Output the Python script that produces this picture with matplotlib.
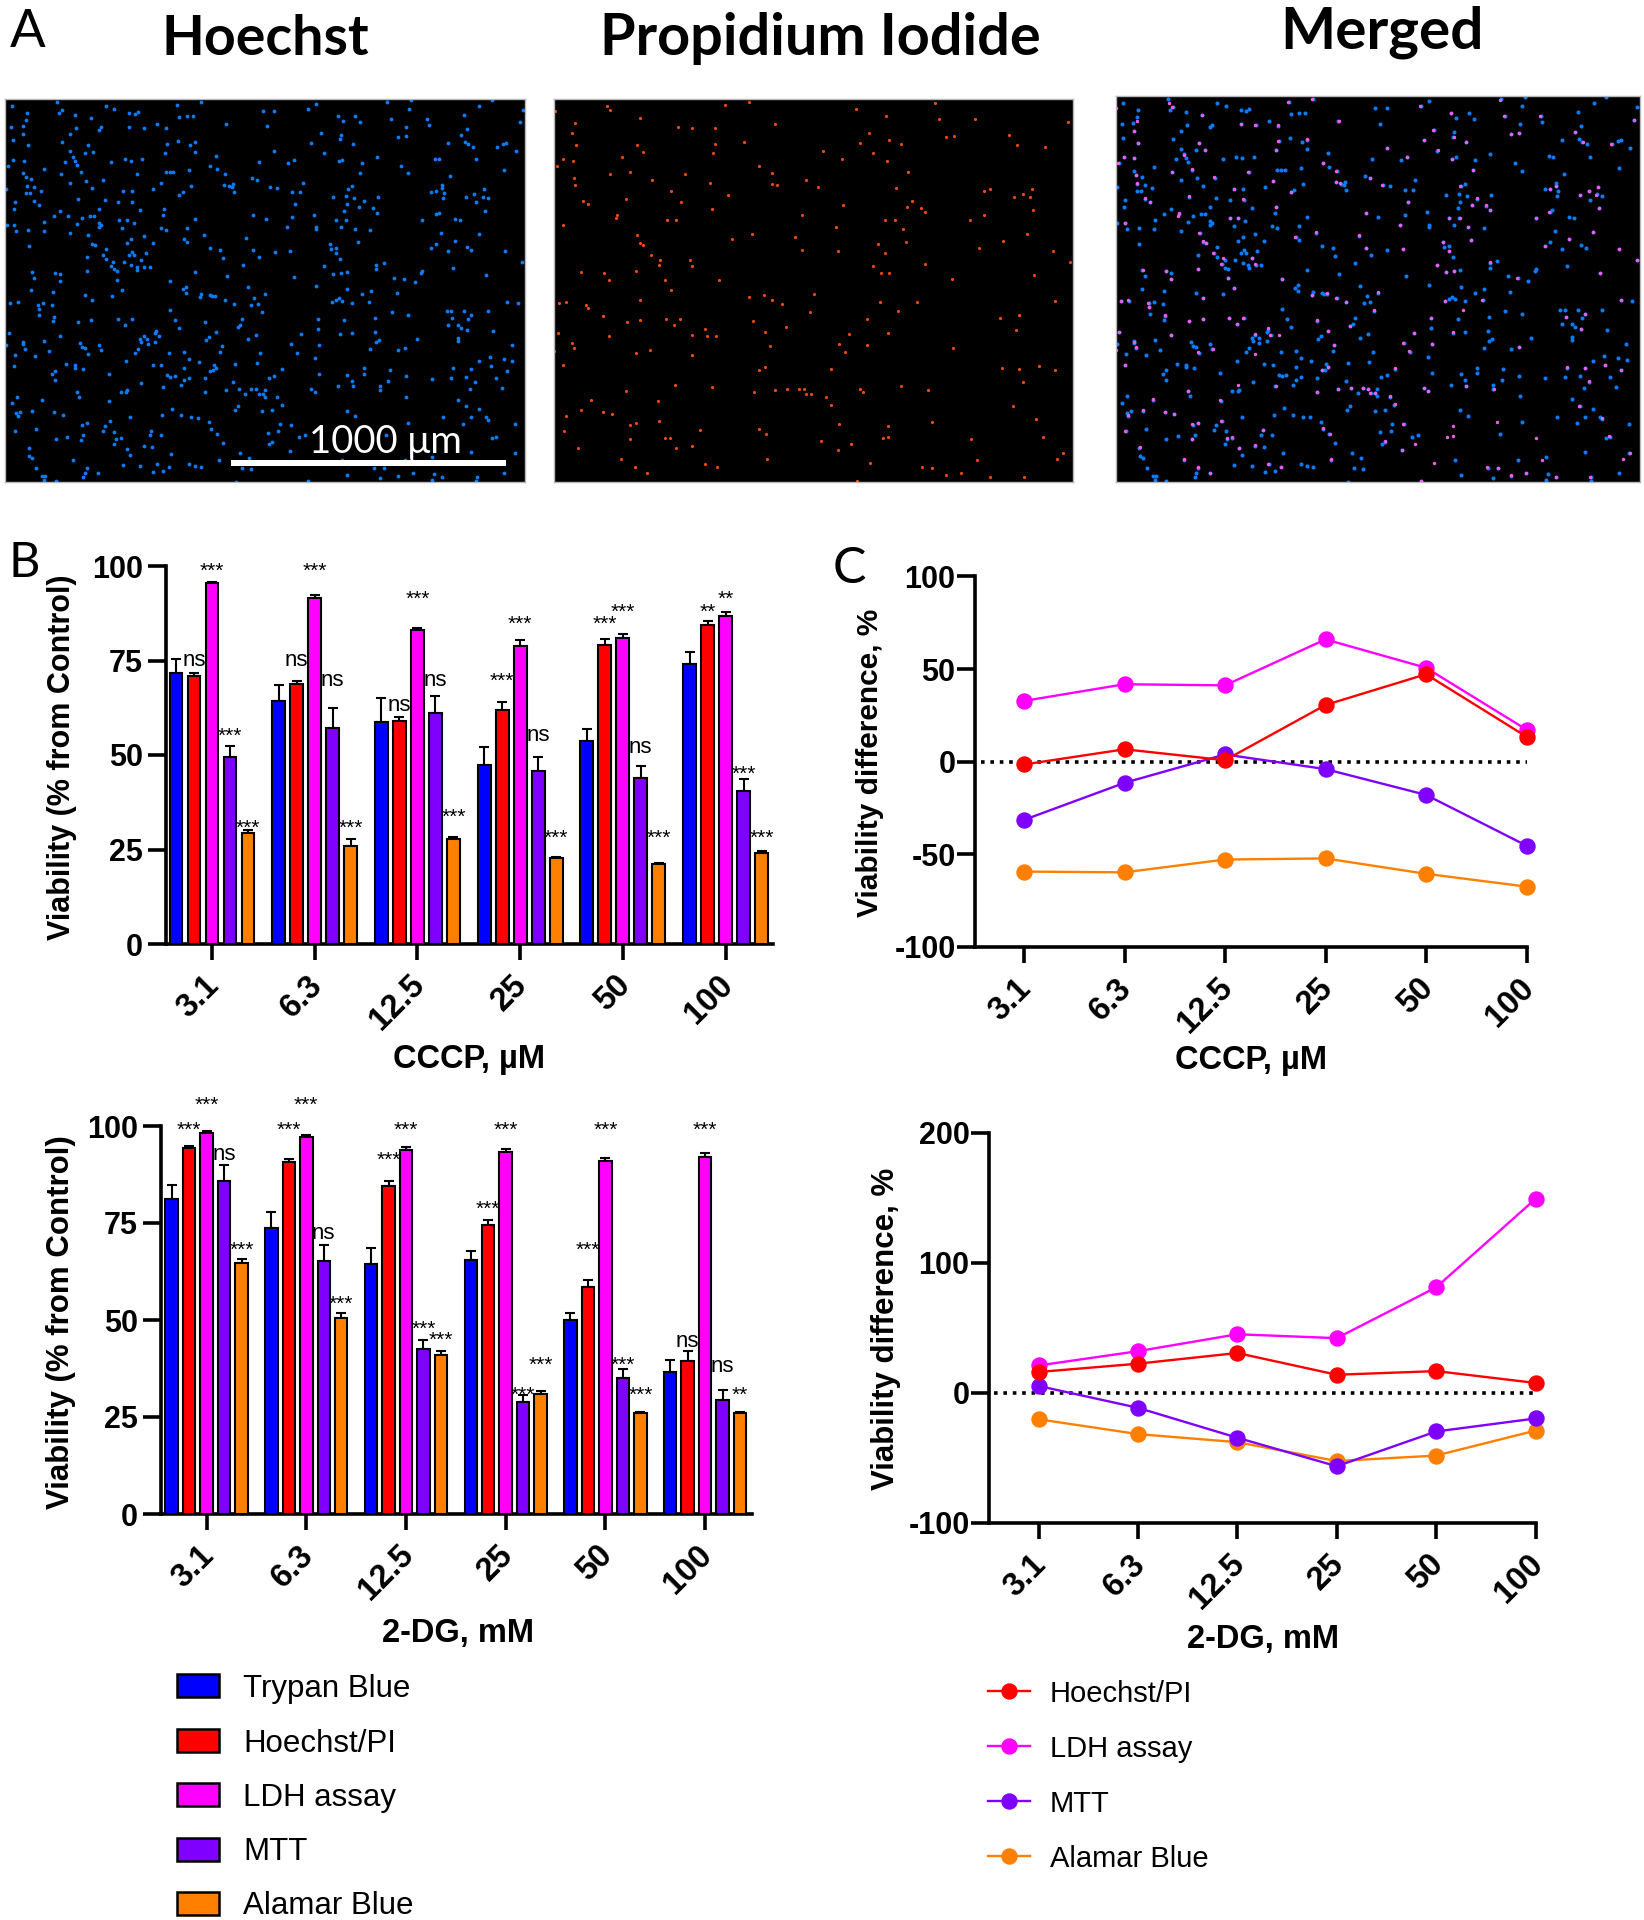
import numpy as np
import matplotlib
matplotlib.use("Agg")
import matplotlib.pyplot as plt
from matplotlib.patches import Rectangle

plt.rcParams["axes.unicode_minus"] = False

W, H = 1644, 1920
BOLD = "Liberation Sans"
LATO = "Lato"

groups = ["3.1", "6.3", "12.5", "25", "50", "100"]
bar_names = ["Trypan Blue", "Hoechst/PI", "LDH assay", "MTT", "Alamar Blue"]
line_names = ["Hoechst/PI", "LDH assay", "MTT", "Alamar Blue"]
bar_colors = ["#0000FF", "#FF0000", "#FF00FF", "#7F00FF", "#FF8000"]
line_colors = bar_colors[1:]

# viability bars, CCCP
cccp_trypan = [71.6, 64.4, 58.6, 47.4, 53.6, 74.2]
cccp_hoechst = [70.9, 68.8, 59.0, 62.0, 79.1, 84.4]
cccp_ldh = [95.5, 91.5, 83.1, 78.8, 80.9, 86.9]
cccp_mtt = [49.4, 57.2, 61.2, 45.7, 44.0, 40.5]
cccp_alamar = [29.3, 26.0, 27.8, 22.8, 21.2, 24.1]
cccp_trypan_err = [3.7, 4.0, 6.6, 4.6, 3.2, 3.1]
cccp_hoechst_err = [0.7, 0.9, 1.1, 1.9, 1.7, 1.0]
cccp_ldh_err = [0.3, 0.7, 0.5, 1.5, 1.1, 1.0]
cccp_mtt_err = [3.1, 5.3, 4.3, 3.8, 3.0, 3.2]
cccp_alamar_err = [0.9, 1.9, 0.5, 0.2, 0.3, 0.4]

# viability bars, 2-DG
dg_trypan = [81.3, 73.6, 64.5, 65.4, 50.1, 36.7]
dg_hoechst = [94.4, 90.6, 84.5, 74.5, 58.6, 39.5]
dg_ldh = [98.1, 97.2, 93.7, 93.3, 91.0, 92.0]
dg_mtt = [85.9, 65.3, 42.4, 28.8, 35.1, 29.5]
dg_alamar = [64.7, 50.5, 41.0, 30.9, 26.0, 26.1]
dg_trypan_err = [3.4, 4.3, 4.1, 2.3, 1.6, 3.0]
dg_hoechst_err = [0.4, 0.8, 1.2, 1.3, 1.8, 2.4]
dg_ldh_err = [0.7, 0.6, 1.0, 0.8, 0.8, 1.0]
dg_mtt_err = [4.1, 4.1, 2.5, 1.8, 2.3, 2.5]
dg_alamar_err = [1.1, 1.2, 1.0, 0.7, 0.4, 0.3]

# significance labels and the height they sit at
cccp_sig_hoechst = ["ns", "ns", "ns", "***", "***", "**"]
cccp_sig_ldh = ["***", "***", "***", "***", "***", "**"]
cccp_sig_mtt = ["***", "ns", "ns", "ns", "ns", "***"]
cccp_sig_alamar = ["***", "***", "***", "***", "***", "***"]
cccp_sig_hoechst_y = [75.1, 75.1, 63.1, 70.9, 86.0, 89.0]
cccp_sig_ldh_y = [100.0, 100.0, 92.4, 86.0, 89.0, 92.4]
cccp_sig_mtt_y = [56.3, 69.6, 69.6, 55.1, 52.0, 46.1]
cccp_sig_alamar_y = [31.8, 31.8, 34.8, 29.3, 29.3, 29.3]

dg_sig_hoechst = ["***", "***", "***", "***", "***", "ns"]
dg_sig_ldh = ["***", "***", "***", "***", "***", "***"]
dg_sig_mtt = ["ns", "ns", "***", "***", "***", "ns"]
dg_sig_alamar = ["***", "***", "***", "***", "***", "**"]
dg_sig_hoechst_y = [100.2, 100.2, 92.5, 79.9, 69.1, 44.5]
dg_sig_ldh_y = [106.6, 106.6, 100.2, 100.2, 100.2, 100.2]
dg_sig_mtt_y = [92.7, 72.4, 48.9, 31.9, 39.6, 38.1]
dg_sig_alamar_y = [69.1, 55.2, 45.9, 39.6, 31.9, 31.9]

# viability difference lines
diff_cccp_hoechst = [-1.5, 6.7, 0.8, 30.6, 47.2, 13.5]
diff_cccp_ldh = [32.8, 41.8, 41.2, 66.0, 50.7, 17.3]
diff_cccp_mtt = [-31.4, -11.4, 3.9, -4.0, -17.9, -45.3]
diff_cccp_alamar = [-59.3, -59.7, -52.8, -52.2, -60.5, -67.4]

diff_dg_hoechst = [16.0, 22.4, 30.6, 13.9, 16.7, 7.6]
diff_dg_ldh = [21.0, 32.0, 45.0, 42.0, 81.0, 149.0]
diff_dg_mtt = [5.3, -11.5, -34.5, -56.4, -29.7, -19.7]
diff_dg_alamar = [-20.3, -31.7, -37.9, -52.4, -48.2, -29.0]

# cell positions
img_x0, img_x1, img_y0, img_y1 = 13, 1372, 296, 1447
hoechst_dots = [
(148,305),(524,306),(826,311),(1012,307),(1075,300),(1285,299),(32,318),(155,340),(162,330),(276,318),(299,328),(338,338),(352,341),(360,336),(462,315),(687,332),(716,334),(805,327),(1068,327),(1253,317),(1366,330),(71,340),(68,360),(59,378),(29,380),(197,345),(237,353),(468,351),(488,347),(504,348),(883,348),(897,362),(929,347),(942,366),(1022,356),(1116,356),(1120,375),(1212,346),(1359,367),(199,384),(182,401),(264,382),(258,390),(338,381),(377,384),(411,371),(434,385),(591,372),(698,379),(838,398),(1061,381),(1221,387),(61,401),(33,421),(72,436),(161,426),(230,436),(436,431),(466,423),(497,435),(510,427),(892,405),(889,418),(922,433),(1039,411),(1060,408),(1171,429),(1206,405),(1215,425),(1224,433),(1235,440),(1300,440),(1315,431),(1323,428),(813,428),(184,454),(190,470),(221,458),(244,457),(430,458),(510,456),(717,452),(848,460),(1348,453),(35,480),(62,482),(171,486),(197,482),(202,494),(291,486),(326,478),(341,483),(372,478),(565,468),(678,486),(753,488),(769,479),(886,484),(895,480),(946,488),(984,471),(1136,476),(1147,478),(1244,478),(21,498),(114,507),(211,516),(550,497),(567,507),(494,510),(1048,497),(1318,511),(1067,519),(940,518),(61,520),(67,532),(81,537),(160,523),(358,523),(433,517),(443,516),(452,517),(587,521),(659,534),(672,540),(270,540),(225,542),(184,548),(421,550),(585,554),(598,558),(605,562),(609,552),(791,548),(919,559),(1177,529),(1155,556),(1155,565),(70,558),(90,561),(107,572),(240,565),(401,567),(498,559),(706,561),(725,564),(909,566),(16,568),(68,580),(79,580),(321,573),(344,574),(477,577),(469,584),(612,577),(763,576),(785,577),(1127,575),(1140,574),(1161,580),(1265,567),(1240,581),(204,597),(274,600),(869,592),(903,589),(925,594),(987,591),(1159,595),(1217,592),(1261,590),(1275,595),(38,607),(90,603),(103,614),(309,606),(346,606),(772,613),(906,612),(951,603),(1243,606),(36,628),(258,627),(367,630),(428,628),(938,622),(975,624),(900,632),(985,638),(1268,632),(158,634),(140,647),(178,648),(214,654),(235,647),(245,648),(426,645),(662,646),(820,644),(1146,638),(1139,643),(1189,657),(1201,660),(763,652),(509,657),(694,658),(905,659),(878,661),(1103,660),(115,666),(17,674),(37,675),(201,672),(259,668),(263,675),(258,680),(311,660),(332,661),(350,668),(892,680),(827,680),(825,688),(750,681),(320,685),(420,684),(433,690),(489,683),(73,691),(114,692),(43,694),(183,698),(927,688),(968,690),(1153,699),(1251,703),(231,704),(376,707),(343,717),(533,704),(644,713),(480,717),(489,725),(935,727),(1189,724),(75,737),(241,732),(248,735),(332,730),(399,730),(863,732),(866,746),(879,745),(1140,733),(1127,744),(1171,752),(1221,741),(1232,750),(1320,753),(549,743),(576,751),(662,751),(718,755),(759,754),(276,747),(346,757),(338,764),(351,765),(381,760),(268,765),(226,771),(276,778),(583,775),(676,772),(879,759),(889,776),(368,780),(324,785),(296,785),(289,797),(343,795),(357,800),(377,800),(391,800),(634,794),(847,799),(1003,790),(983,794),(1365,787),(297,808),(305,812),(228,813),(358,810),(510,816),(869,821),(892,819),(907,815),(983,808),(1104,813),(1100,819),(1185,804),(1270,825),(83,816),(143,819),(158,823),(89,833),(157,842),(593,827),(767,832),(1030,834),(1056,838),(1084,847),(305,840),(445,842),
(825,859),(487,860),(479,868),(648,862),(908,866),(81,871),(138,877),(320,869),(487,879),(969,873),(945,883),(1037,880),(222,885),(292,888),(525,882),(548,885),(555,887),(561,887),(665,893),(693,883),(523,891),(587,900),(241,899),(886,895),(879,901),(868,907),(893,902),(965,905),(919,909),(1325,905),(1353,908),(26,909),(47,907),(99,914),(112,910),(137,916),(611,911),(657,915),(673,912),(101,927),(445,931),(684,937),(1024,938),(1066,945),(1167,934),(1179,934),(1212,935),(1275,935),(1230,946),(103,947),(142,951),(138,963),(239,961),(308,958),(345,957),(457,962),(633,958),(832,959),(900,960),(981,954),(1181,956),(1222,958),(204,966),(327,976),(536,966),(467,984),(628,977),(621,983),(1170,977),(1197,977),(1205,985),(1221,991),(832,989),(1289,994),(23,1001),(158,1008),(408,995),(406,1000),(565,997),(668,1005),(786,1002),(889,1002),(920,1001),(979,998),(375,1010),(384,1017),(415,1010),(545,1013),(539,1021),(648,1019),(1091,1018),(1197,1015),(1198,1024),(116,1025),(209,1030),(366,1017),(369,1026),(406,1026),(386,1034),(990,1021),(982,1027),(60,1028),(60,1034),(16,1037),(258,1037),(215,1042),(221,1045),(360,1047),(579,1040),(760,1033),(834,1037),(1338,1035),(968,1048),(1040,1050),(1059,1045),(66,1047),(263,1050),(128,1055),(441,1059),(352,1060),(576,1056),(776,1060),(229,1062),(480,1058),(680,1061),(39,1067),(91,1068),(493,1077),(823,1075),(1280,1073),(1316,1079),(1339,1083),(1252,1085),(329,1085),(520,1087),(671,1089),(173,1094),(195,1097),(399,1095),(422,1097),(560,1095),(615,1092),(1283,1099),(37,1099),(216,1107),(197,1105),(482,1104),(564,1104),(737,1109),(951,1106),(1018,1111),(1185,1106),(1230,1108),(1325,1113),(548,1113),(556,1112),(950,1123),(143,1113),(135,1124),(285,1122),(833,1122),(908,1125),(1060,1130),(717,1128),(702,1135),(436,1127),(456,1128),(445,1132),(494,1135),(1128,1138),(1178,1135),(1217,1132),(1295,1135),(144,1142),(482,1142),(535,1136),(610,1147),(919,1144),(1015,1143),(1242,1148),(369,1149),(473,1157),(884,1159),(922,1160),(993,1159),(1311,1164),(427,1162),(993,1170),(1229,1167),(591,1170),(625,1168),(655,1168),(668,1169),(692,1170),(814,1168),(823,1177),(333,1172),(316,1176),(330,1176),(201,1177),(536,1178),(641,1183),(676,1183),(686,1183),(692,1192),(44,1192),(206,1192),(724,1193),(1061,1192),(1197,1201),(109,1202),(286,1205),(31,1211),(621,1220),(736,1217),(613,1232),(1217,1220),(449,1227),(1252,1229),(84,1234),(43,1240),(52,1236),(142,1238),(685,1235),(711,1232),(906,1233),(46,1250),(165,1245),(424,1247),(474,1246),(498,1252),(517,1254),(340,1253),(927,1249),(1158,1252),(1230,1253),(1270,1253),(1276,1260),(288,1264),(545,1268),(1067,1269),(731,1273),(761,1275),(1210,1272),(1345,1274),(213,1276),(228,1271),(274,1278),(93,1288),(268,1293),(299,1296),(395,1293),(552,1289),(39,1295),(727,1295),(700,1299),(218,1307),(175,1311),(391,1307),(420,1307),(568,1304),(782,1312),(797,1306),(1010,1305),(1295,1312),(1285,1316),(145,1318),(211,1320),(316,1316),(303,1318),(297,1334),(583,1330),(712,1327),(703,1333),(376,1340),(397,1342),(333,1347),(75,1345),(757,1353),(1230,1357),(447,1362),(340,1367),(76,1369),(84,1376),(627,1361),(1346,1361),(190,1380),(410,1394),(572,1380),(650,1376),(893,1380),(1058,1380),(1130,1372),(494,1393),(510,1400),(525,1401),(321,1395),(367,1400),(442,1402),(94,1405),(226,1404),(632,1406),(656,1408),(978,1405),(1004,1405),(401,1416),(427,1413),(222,1419),(218,1431),(257,1421),(110,1429),(118,1430),(908,1426),(1040,1428),(1078,1421),(1135,1423),(1318,1419),(993,1434),(1155,1432),(1246,1432),(115,1440),(145,1444),(617,1446),(806,1444),(1130,1442),(1245,1444),
]

# cell positions
pi_x0, pi_x1, pi_y0, pi_y1 = 40, 1494, 296, 1447
pi_dots = [
(586,306),(1107,308),(42,332),(188,318),(198,330),(520,315),(886,328),(970,348),(280,353),(1118,356),(1219,356),(1480,367),(100,370),(659,372),(388,381),(428,383),(490,384),(91,400),(922,399),(1316,404),(1138,411),(1160,408),(978,419),(103,436),(272,436),(492,431),(572,426),(896,428),(1012,433),(1336,434),(1416,440),(288,457),(793,452),(486,458),(934,459),(230,472),(64,478),(92,482),(848,478),(973,484),(48,498),(615,497),(197,523),(252,515),(408,523),(652,520),(1031,517),(96,533),(314,539),(745,540),(476,549),(100,556),(664,556),(652,553),(780,561),(997,565),(1262,566),(1380,567),(369,573),(1246,573),(528,584),(1354,581),(1328,591),(1374,591),(243,596),(122,602),(395,605),(1043,602),(136,613),(851,614),(1029,622),(1069,623),(484,627),(1080,637),(1383,631),(216,645),(214,653),(735,646),(1244,644),(357,659),(381,660),(966,661),(995,659),(1206,659),(65,675),(829,681),(1018,687),(272,704),(595,703),(1364,702),(715,712),(539,716),(1298,723),(1027,726),(282,730),(290,735),(949,731),(735,750),(837,753),(1232,744),(1438,752),(966,759),(311,764),(338,779),(420,780),(334,796),(428,798),(1079,792),(1486,787),(933,799),(115,815),(179,818),(269,813),(956,820),(979,819),(193,841),(352,839),(502,841),(1155,838),(1385,825),(368,869),(767,882),(586,890),(627,885),(282,899),(652,899),(679,911),(54,909),(75,906),(954,907),(1057,905),(1444,904),(131,914),(134,925),(757,936),(1003,935),(177,949),(1343,945),(282,960),(355,957),(394,957),(916,958),(1289,955),(244,966),(598,965),(376,975),(690,982),(464,987),(1333,990),(51,1000),(631,996),(867,1002),(977,1001),(194,1008),(426,1007),(470,1009),(493,1008),(90,1029),(838,1032),(918,1036),(645,1039),(96,1045),(1159,1044),(40,1055),(269,1061),(310,1050),(426,1066),(855,1058),(66,1097),(630,1103),(614,1112),(815,1108),(1294,1105),(1342,1107),(1398,1098),(1444,1112),(1355,1147),(380,1157),(484,1162),(1012,1160),(658,1170),(694,1167),(727,1168),(741,1169),(896,1168),(1089,1171),(241,1175),(600,1178),(747,1182),(759,1182),(907,1177),(143,1200),(801,1192),(331,1203),(815,1216),(1327,1220),(115,1232),(178,1237),(202,1244),(74,1248),(1391,1257),(334,1264),(1099,1267),(269,1271),(253,1275),(839,1273),(976,1280),(448,1291),(615,1287),(67,1294),(634,1303),(350,1316),(364,1314),(252,1318),(961,1314),(976,1311),(1207,1317),(1410,1311),(789,1325),(871,1334),(428,1338),(107,1344),(383,1346),(836,1352),(1467,1360),(229,1378),(637,1379),(1224,1381),(1448,1378),(924,1391),(463,1393),(268,1402),(498,1401),(1072,1403),(1100,1404),(301,1420),(1137,1425),(1262,1431),(1358,1431),(1179,1420),(889,1445),
]


def px_axes(x0, ytop, x1, ybot, zorder=1):
    return fig.add_axes([x0 / W, 1 - ybot / H, (x1 - x0) / W, (ybot - ytop) / H], zorder=zorder)


def dots_frac(dots, x0, x1, y0, y1):
    d = np.array(dots, dtype=float)
    return (d[:, 0] - x0) / (x1 - x0), (d[:, 1] - y0) / (y1 - y0)


def micrograph(box):
    ax = px_axes(*box)
    ax.set_facecolor("black")
    ax.set_xlim(0, 1)
    ax.set_ylim(1, 0)
    ax.set_xticks([])
    ax.set_yticks([])
    for s in ax.spines.values():
        s.set_color("#b8b8b8")
        s.set_linewidth(1.0)
    return ax


def style_axes(ax, ymin, ymax, yticks, ylabel, xlabel, ylab_pos, xlab_pos, ylab_size, ypad):
    ax.set_ylim(ymin, ymax)
    ax.set_yticks(yticks)
    ax.set_xticks(range(len(groups)))
    ax.set_xticklabels(groups, rotation=45, ha="right", va="top", rotation_mode="anchor")
    for s in ["top", "right"]:
        ax.spines[s].set_visible(False)
    for s in ["left", "bottom"]:
        ax.spines[s].set_linewidth(2.6)
    ax.tick_params(axis="x", width=2.6, length=11.5, labelsize=23.5, pad=4)
    ax.tick_params(axis="y", width=2.6, length=13, labelsize=22, pad=ypad)
    for t in ax.get_xticklabels() + ax.get_yticklabels():
        t.set_fontfamily(BOLD)
        t.set_fontweight("bold")
    for t in ax.get_xticklabels():
        t.set_transform(t.get_transform() + matplotlib.transforms.ScaledTranslation(-6 / 72, -3 / 72, fig.dpi_scale_trans))
    ax.set_ylabel(ylabel, fontfamily=BOLD, fontweight="bold", fontsize=ylab_size, va="center", ha="center")
    ax.set_xlabel(xlabel, fontfamily=BOLD, fontweight="bold", fontsize=23.5, va="baseline", ha="center")
    ax.yaxis.set_label_coords(ylab_pos[0], ylab_pos[1], transform=page.transData)
    ax.xaxis.set_label_coords(xlab_pos[0], xlab_pos[1], transform=page.transData)


def viability_panel(box, xlim, series, errs, sig_labels, sig_heights, xlabel, ylab_pos, xlab_pos, ylab_size):
    ax = px_axes(*box)
    ax.patch.set_alpha(0)
    step = 18.0 / 102.7
    x = np.arange(len(groups))
    for i in range(5):
        pos = x + (i - 2) * step
        ax.bar(pos, series[i], width=0.125, color=bar_colors[i], edgecolor="black", linewidth=1.5, zorder=3)
        ax.errorbar(pos, series[i], yerr=[np.zeros(6), errs[i]], fmt="none", ecolor="black",
                    elinewidth=1.5, capsize=3.5, capthick=1.5, zorder=2)
    for i in range(4):
        pos = x + (i - 1) * step
        for j in range(6):
            is_ns = sig_labels[i][j] == "ns"
            ax.annotate(sig_labels[i][j], xy=(pos[j], sig_heights[i][j]), xytext=(0, -4 if is_ns else -7.5),
                        textcoords="offset points", ha="center", va="baseline",
                        fontfamily=BOLD, fontsize=16 if is_ns else 15, annotation_clip=False, zorder=5)
    ax.set_xlim(*xlim)
    style_axes(ax, 0, 100, [0, 25, 50, 75, 100], "Viability (% from Control)", xlabel, ylab_pos, xlab_pos, ylab_size, 3.5)
    return ax


def difference_panel(box, xlim, series, ymin, ymax, yticks, xlabel, ylab_pos, xlab_pos, ylab_size):
    ax = px_axes(*box)
    ax.patch.set_alpha(0)
    x = np.arange(len(groups))
    ax.axhline(0, xmin=0.01, color="black", linestyle=(0, (1, 1.6)), linewidth=2.6, zorder=1)
    for i in [1, 3, 2, 0]:
        ax.plot(x, series[i], color=line_colors[i], linewidth=1.7, marker="o", markersize=10.8,
                clip_on=False, zorder=3)
    ax.set_xlim(*xlim)
    style_axes(ax, ymin, ymax, yticks, "Viability difference, %", xlabel, ylab_pos, xlab_pos, ylab_size, 1)
    return ax


fig = plt.figure(figsize=(W / 100, H / 100), dpi=100, facecolor="white")
# whole page axes in pixel units, for the titles, panel letters and legends
page = fig.add_axes([0, 0, 1, 1], zorder=10)
page.set_xlim(0, W)
page.set_ylim(H, 0)
page.axis("off")

# A, micrographs
hx, hy = dots_frac(hoechst_dots, img_x0, img_x1, img_y0, img_y1)
px, py = dots_frac(pi_dots, pi_x0, pi_x1, pi_y0, pi_y1)
blue_dot = "#0A7CFF"
red_dot = "#FF4A0A"
pink_dot = "#FF5CEB"

ax = micrograph((5, 98.7, 525, 482))
ax.scatter(hx, hy, s=7.5, color=blue_dot, linewidths=0)
ax = micrograph((554, 98.7, 1073, 482))
ax.scatter(px, py, s=5, color=red_dot, linewidths=0)
ax = micrograph((1115.5, 95.7, 1639.5, 482))
ax.scatter(hx, hy, s=8.5, color=blue_dot, linewidths=0)
ax.scatter(px, py, s=6, color=pink_dot, linewidths=0)

page.add_patch(Rectangle((231, 460), 275, 6, color="white", linewidth=0))
page.text(385, 453.5, "1000 μm", color="white", fontfamily=LATO, fontsize=27.5, ha="center", va="baseline")
page.text(265, 55, "Hoechst", fontfamily=LATO, fontweight="bold", fontsize=40, ha="center", va="baseline")
page.text(820, 55, "Propidium Iodide", fontfamily=LATO, fontweight="bold", fontsize=41.5, ha="center", va="baseline")
page.text(1382, 48.5, "Merged", fontfamily=LATO, fontweight="bold", fontsize=42, ha="center", va="baseline")
page.text(10, 47, "A", fontfamily=LATO, fontsize=38, va="baseline")
page.text(8, 577, "B", fontfamily=LATO, fontsize=35, va="baseline")
page.text(833, 583, "C", fontfamily=LATO, fontsize=36, va="baseline")

# B, viability bars
viability_panel((166, 566, 773, 944), ((166 - 212) / 102.7, (773 - 212) / 102.7),
                [cccp_trypan, cccp_hoechst, cccp_ldh, cccp_mtt, cccp_alamar],
                [cccp_trypan_err, cccp_hoechst_err, cccp_ldh_err, cccp_mtt_err, cccp_alamar_err],
                [cccp_sig_hoechst, cccp_sig_ldh, cccp_sig_mtt, cccp_sig_alamar],
                [cccp_sig_hoechst_y, cccp_sig_ldh_y, cccp_sig_mtt_y, cccp_sig_alamar_y],
                "CCCP, µM", (62, 757), (469, 1068), 22)
viability_panel((160.7, 1126, 752, 1514), ((160.7 - 206.6) / 99.7, (752 - 206.6) / 99.7),
                [dg_trypan, dg_hoechst, dg_ldh, dg_mtt, dg_alamar],
                [dg_trypan_err, dg_hoechst_err, dg_ldh_err, dg_mtt_err, dg_alamar_err],
                [dg_sig_hoechst, dg_sig_ldh, dg_sig_mtt, dg_sig_alamar],
                [dg_sig_hoechst_y, dg_sig_ldh_y, dg_sig_mtt_y, dg_sig_alamar_y],
                "2-DG, mM", (61, 1322), (457.6, 1642), 22.5)

# C, viability differences
difference_panel((975, 576.4, 1526.5, 947), ((975 - 1024) / 100.5, 5),
                 [diff_cccp_hoechst, diff_cccp_ldh, diff_cccp_mtt, diff_cccp_alamar],
                 -100, 100, [-100, -50, 0, 50, 100], "CCCP, µM", (869.6, 763), (1250.7, 1069), 21.5)
difference_panel((989, 1132.5, 1535.5, 1523), ((989 - 1038.5) / 99.4, 5),
                 [diff_dg_hoechst, diff_dg_ldh, diff_dg_mtt, diff_dg_alamar],
                 -100, 200, [-100, 0, 100, 200], "2-DG, mM", (886, 1329), (1262.5, 1647.6), 22.5)

# legends
bar_rows = [1685.7, 1740, 1794.7, 1849, 1903]
for name, col, y in zip(bar_names, bar_colors, bar_rows):
    page.add_patch(Rectangle((177, y - 11.5), 42, 23, facecolor=col, edgecolor="black", linewidth=1.8))
    page.text(243, y, name, fontfamily=BOLD, fontsize=22.5, va="center_baseline")

line_rows = [1691, 1746, 1800.7, 1855.7]
for name, col, y in zip(line_names, line_colors, line_rows):
    page.plot([987.5, 1030], [y, y], color=col, linewidth=1.7)
    page.plot([1008.5], [y], color=col, marker="o", markersize=10.8)
    page.text(1050, y, name, fontfamily=BOLD, fontsize=21, va="center_baseline")
page.set_xlim(0, W)
page.set_ylim(H, 0)

fig.savefig("out.png", dpi=100, facecolor="white")
